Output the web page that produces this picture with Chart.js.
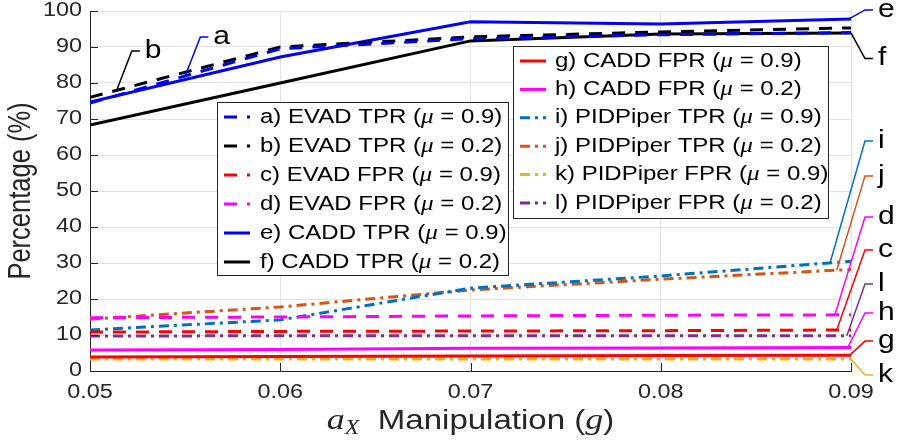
<!DOCTYPE html>
<html>
<head>
<meta charset="utf-8">
<script src="https://cdn.jsdelivr.net/npm/chart.js@4.4.0/dist/chart.umd.min.js"></script>
<style>
  body { margin: 0; background: #fff; }
  canvas { display: block; }
</style>
</head>
<body>
<canvas id="detectionChart" width="898" height="440"></canvas>
<script>
// Manipulation magnitude (g) and the tick marks on both axes
const manipulation = [0.05, 0.06, 0.07, 0.08, 0.09];
const xTicks = [0.05, 0.06, 0.07, 0.08, 0.09];
const yTicks = [0, 10, 20, 30, 40, 50, 60, 70, 80, 90, 100];

// Detection rates in percent, one array per curve
const evadTpr09 = [74.4, 89.5, 92.3, 93.4, 94.0];
const evadTpr02 = [76.0, 90.0, 92.8, 94.2, 95.3];
const evadFpr09 = [10.8, 11.0, 11.1, 11.2, 11.4];
const evadFpr02 = [14.8, 15.0, 15.3, 15.5, 15.6];
const caddTpr09 = [74.7, 87.2, 97.0, 96.4, 97.8];
const caddTpr02 = [68.3, 80.0, 91.7, 93.6, 93.9];
const caddFpr09 = [3.9, 4.0, 4.2, 4.3, 4.4];
const caddFpr02 = [5.8, 6.0, 6.3, 6.4, 6.5];
const pidTpr09 = [11.4, 14.2, 23.0, 26.4, 30.5];
const pidTpr02 = [14.4, 17.8, 22.5, 25.5, 28.2];
const pidFpr09 = [3.3, 3.3, 3.3, 3.3, 3.3];
const pidFpr02 = [9.7, 9.8, 9.8, 9.8, 9.8];

const series = [evadTpr09, evadTpr02, evadFpr09, evadFpr02, caddTpr09, caddTpr02,
                caddFpr09, caddFpr02, pidTpr09, pidTpr02, pidFpr09, pidFpr02];
const seriesNames = ['a) EVAD TPR', 'b) EVAD TPR', 'c) EVAD FPR', 'd) EVAD FPR',
                     'e) CADD TPR', 'f) CADD TPR', 'g) CADD FPR', 'h) CADD FPR',
                     'i) PIDPiper TPR', 'j) PIDPiper TPR', 'k) PIDPiper FPR', 'l) PIDPiper FPR'];
const seriesMu = ['0.9', '0.2', '0.9', '0.2', '0.9', '0.2', '0.9', '0.2', '0.9', '0.2', '0.9', '0.2'];

// Letter callouts: where the leader leaves the curve and where its label sits
const leaders = [
    { series: 0, at: 0.0550, toX: 0.0558, toY: 92.8 },
    { series: 1, at: 0.0514, toX: 0.0522, toY: 88.9 },
    { series: 4, at: 0.0899, toY: 100.3 },
    { series: 5, at: 0.0900, toY: 86.8 },
    { series: 8, at: 0.0889, toY: 63.9 },
    { series: 9, at: 0.08925, toY: 54.2 },
    { series: 3, at: 0.08915, toY: 42.8 },
    { series: 2, at: 0.08925, toY: 33.6 },
    { series: 11, at: 0.08978, toY: 24.2 },
    { series: 7, at: 0.08983, toY: 16.1 },
    { series: 6, at: 0.08994, toY: 8.3 },
    { series: 10, at: 0.0900, toY: -1.1 }
];

const FONT = "'Liberation Sans', Arial, sans-serif";
const MATH = "'Liberation Serif', 'DejaVu Serif', serif";
const INK = '#262626';
const WIDE = 1.2;   // text is set a little wider than tall

const DASH = [13, 10];
const DASHDOT = [10, 5, 3, 5];
const styles = [
    { color: '#0000ff', dash: DASH }, { color: '#000000', dash: DASH },
    { color: '#ff0000', dash: DASH }, { color: '#ff00ff', dash: DASH },
    { color: '#0000ff', dash: [] }, { color: '#000000', dash: [] },
    { color: '#ff0000', dash: [] }, { color: '#ff00ff', dash: [] },
    { color: '#0072bd', dash: DASHDOT }, { color: '#d95319', dash: DASHDOT },
    { color: '#edb120', dash: DASHDOT }, { color: '#7e2f8e', dash: DASHDOT }
];

function valueAt(values, x) {
    for (let i = 0; i < manipulation.length - 1; i++) {
        const x0 = manipulation[i], x1 = manipulation[i + 1];
        if (x >= x0 && x <= x1) {
            return values[i] + (values[i + 1] - values[i]) * (x - x0) / (x1 - x0);
        }
    }
    return values[values.length - 1];
}

function runsWidth(ctx, runs) {
    return runs.reduce((w, r) => { ctx.font = r.font; return w + ctx.measureText(r.text).width; }, 0);
}

// Draws text pieces (each with its own font) widened by WIDE; align is 'left', 'center' or 'right'
function drawWide(ctx, runs, x, y, align) {
    const w = runsWidth(ctx, runs);
    let cx = align === 'center' ? -w / 2 : align === 'right' ? -w : 0;
    ctx.save();
    ctx.translate(x, y);
    ctx.scale(WIDE, 1);
    ctx.textAlign = 'left';
    runs.forEach(r => {
        ctx.font = r.font;
        ctx.fillText(r.text, cx, r.dy || 0);
        cx += ctx.measureText(r.text).width;
    });
    ctx.restore();
}

// Inward tick marks plus tick labels on the left and bottom axes
const axisDecor = {
    id: 'axisDecor',
    afterDatasetsDraw(chart) {
        const { ctx, chartArea: area, scales: { x, y } } = chart;
        ctx.save();
        ctx.strokeStyle = INK;
        ctx.lineWidth = 1;
        ctx.beginPath();
        yTicks.forEach(v => {
            const py = Math.round(y.getPixelForValue(v)) + 0.5;
            ctx.moveTo(area.left, py);
            ctx.lineTo(area.left + 8, py);
        });
        xTicks.forEach(v => {
            const px = Math.round(x.getPixelForValue(v)) + 0.5;
            ctx.moveTo(px, area.bottom);
            ctx.lineTo(px, area.bottom - 8);
        });
        ctx.stroke();

        ctx.fillStyle = INK;
        ctx.textBaseline = 'middle';
        const tickFont = '19.5px ' + FONT;
        yTicks.forEach(v => {
            drawWide(ctx, [{ text: String(v), font: tickFont }], area.left - 8, y.getPixelForValue(v), 'right');
        });
        xTicks.forEach(v => {
            drawWide(ctx, [{ text: v.toFixed(2), font: tickFont }], x.getPixelForValue(v), area.bottom + 22, 'center');
        });
        ctx.restore();
    }
};

// Leader lines from each curve to its letter
const letterLeaders = {
    id: 'letterLeaders',
    afterDatasetsDraw(chart) {
        const { ctx, chartArea: area, scales: { x, y } } = chart;
        ctx.save();
        ctx.lineWidth = 1.5;
        ctx.setLineDash([]);
        ctx.textBaseline = 'middle';
        leaders.forEach(l => {
            const x0 = x.getPixelForValue(l.at);
            const y0 = y.getPixelForValue(valueAt(series[l.series], l.at));
            const x1 = l.toX !== undefined ? x.getPixelForValue(l.toX) : area.right + 14;
            const y1 = y.getPixelForValue(l.toY);
            ctx.strokeStyle = styles[l.series].color;
            ctx.beginPath();
            ctx.moveTo(x0, y0);
            ctx.lineTo(x1, y1);
            ctx.lineTo(x1 + 8, y1);
            ctx.stroke();
            ctx.fillStyle = '#000';
            drawWide(ctx, [{ text: seriesNames[l.series][0], font: '25px ' + FONT }], x1 + 13, y1, 'left');
        });
        ctx.restore();
    }
};

// Two boxed legends drawn over the plot
const legendBoxes = [
    { series: [0, 1, 2, 3, 4, 5], left: 217, top: 102, width: 291, height: 173, rowH: 29, sampleX: 224, textX: 260 },
    { series: [6, 7, 8, 9, 10, 11], left: 513, top: 46, width: 315, height: 172, rowH: 28.4, sampleX: 520, textX: 555 }
];

const boxLegends = {
    id: 'boxLegends',
    afterDraw(chart) {
        const { ctx } = chart;
        ctx.save();
        legendBoxes.forEach(b => {
            ctx.fillStyle = '#fff';
            ctx.fillRect(b.left, b.top, b.width, b.height);
            ctx.strokeStyle = INK;
            ctx.lineWidth = 1;
            ctx.setLineDash([]);
            ctx.strokeRect(b.left + 0.5, b.top + 0.5, b.width, b.height);
            b.series.forEach((s, i) => {
                const cy = b.top + 15 + i * b.rowH;
                ctx.strokeStyle = styles[s].color;
                ctx.lineWidth = 3;
                ctx.setLineDash(styles[s].dash);
                ctx.beginPath();
                ctx.moveTo(b.sampleX, cy);
                ctx.lineTo(b.sampleX + 26, cy);
                ctx.stroke();
                ctx.setLineDash([]);
                ctx.fillStyle = '#000';
                ctx.textBaseline = 'middle';
                drawWide(ctx, [
                    { text: seriesNames[s] + ' (', font: '20px ' + FONT },
                    { text: '\u03bc', font: 'italic 21px ' + MATH },
                    { text: ' = ' + seriesMu[s] + ')', font: '20px ' + FONT }
                ], b.textX, cy, 'left');
            });
        });
        ctx.restore();
    }
};

// Axis titles, with the math parts set in italic serif
const axisTitles = {
    id: 'axisTitles',
    afterDraw(chart) {
        const { ctx, chartArea: area } = chart;
        ctx.save();
        ctx.fillStyle = INK;
        ctx.textBaseline = 'alphabetic';
        drawWide(ctx, [
            { text: 'a', font: 'italic 30px ' + MATH },
            { text: 'X', font: 'italic 20px ' + MATH, dy: 5 },
            { text: '  Manipulation (', font: '27.5px ' + FONT },
            { text: 'g', font: 'italic 30px ' + MATH },
            { text: ')', font: '27.5px ' + FONT }
        ], (area.left + area.right) / 2, 429, 'center');

        ctx.translate(22, (area.top + area.bottom) / 2);
        ctx.rotate(-Math.PI / 2);
        ctx.scale(1, WIDE);
        ctx.textAlign = 'center';
        ctx.textBaseline = 'middle';
        ctx.font = '25.5px ' + FONT;
        ctx.fillText('Percentage (%)', 0, 0);
        ctx.restore();
    }
};

const ctx = document.getElementById('detectionChart').getContext('2d');
new Chart(ctx, {
    type: 'line',
    data: {
        datasets: series.map((values, i) => ({
            label: seriesNames[i],
            data: manipulation.map((x, j) => ({ x: x, y: values[j] })),
            borderColor: styles[i].color,
            borderDash: styles[i].dash,
            borderWidth: 3,
            pointRadius: 0,
            tension: 0,
            fill: false
        }))
    },
    options: {
        responsive: false,
        animation: false,
        devicePixelRatio: 1,
        layout: { padding: { top: 11, right: 47, left: 0, bottom: 0 } },
        plugins: {
            legend: { display: false },
            tooltip: { enabled: false }
        },
        scales: {
            x: {
                type: 'linear',
                min: 0.05,
                max: 0.09,
                afterBuildTicks: s => { s.ticks = xTicks.map(v => ({ value: v })); },
                afterFit: s => { s.height = 69; },
                grid: { color: '#e2e2e2', drawTicks: false },
                border: { color: INK, width: 1 },
                ticks: { display: false }
            },
            y: {
                min: 0,
                max: 100,
                afterBuildTicks: s => { s.ticks = yTicks.map(v => ({ value: v })); },
                afterFit: s => { s.width = 90; },
                grid: { color: '#e2e2e2', drawTicks: false },
                border: { color: INK, width: 1 },
                ticks: { display: false }
            }
        }
    },
    plugins: [axisDecor, letterLeaders, boxLegends, axisTitles]
});
</script>
</body>
</html>
